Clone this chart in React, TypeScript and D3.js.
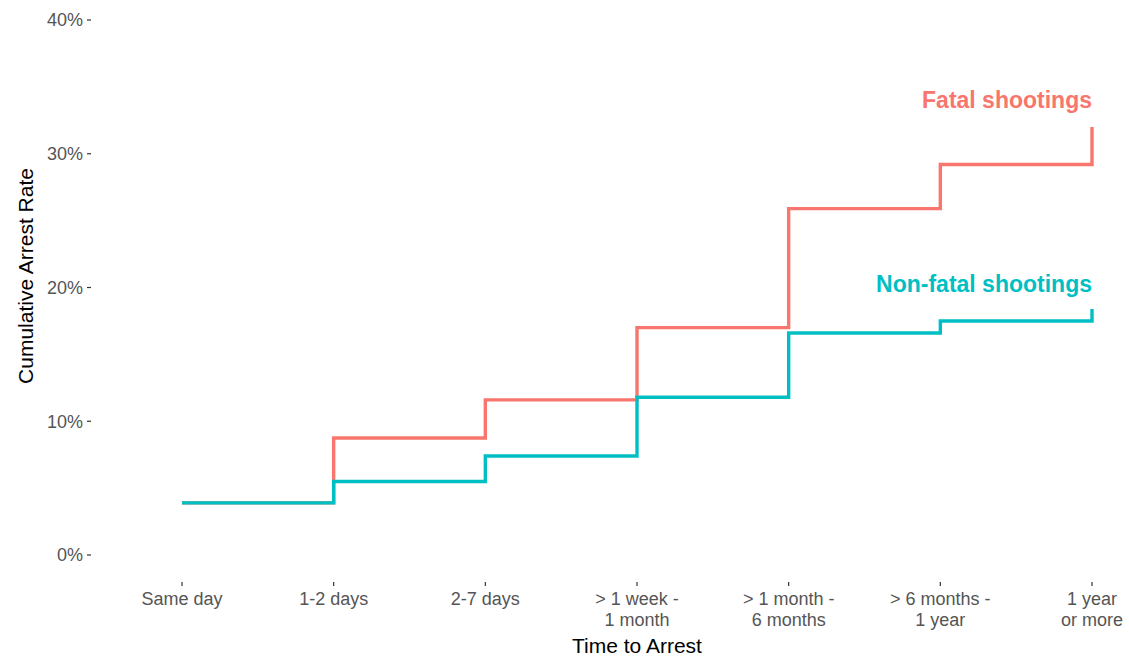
import React from "react";
import * as d3 from "d3";

const categories = [
  "Same day",
  "1-2 days",
  "2-7 days",
  "> 1 week -\n1 month",
  "> 1 month -\n6 months",
  "> 6 months -\n1 year",
  "1 year\nor more",
];
const fatal = [0.039, 0.0875, 0.116, 0.170, 0.259, 0.292, 0.320];
const nonFatal = [0.039, 0.055, 0.074, 0.118, 0.166, 0.175, 0.184];
const yTicks = [0, 0.1, 0.2, 0.3, 0.4];
const seriesLabels = ["Fatal shootings", "Non-fatal shootings"];
const colors = ["#F8766D", "#00BFC4"];

export default function App() {
  const W = 1129, H = 658;
  const x = d3.scalePoint<string>().domain(categories).range([182, 1092]);
  const y = d3.scaleLinear().domain([0, 0.4]).range([555, 20]);
  const panelLeft = 91, panelBottom = 582;
  const line = d3
    .line<number>()
    .x((_, i) => x(categories[i]) as number)
    .y((d) => y(d))
    .curve(d3.curveStepAfter);
  const font = "'Liberation Sans', Arial, Helvetica, sans-serif";
  const fmt = d3.format(".0%");
  return (
    <svg width={W} height={H} style={{ position: "absolute", left: 0, top: 0, background: "#fff" }}>
      <rect width={W} height={H} fill="#fff" />
      {/* y axis */}
      {yTicks.map((t) => (
        <g key={t}>
          <line x1={panelLeft - 4} x2={panelLeft} y1={y(t)} y2={y(t)} stroke="#333" strokeWidth={1.2} />
          <text x={panelLeft - 8} y={y(t)} dy="0.35em" textAnchor="end" fontFamily={font} fontSize={18} fill="#555">
            {fmt(t)}
          </text>
        </g>
      ))}
      {/* x axis */}
      {categories.map((c) => {
        const lines = c.split("\n");
        const cx = x(c) as number;
        return (
          <g key={c}>
            <line x1={cx} x2={cx} y1={panelBottom} y2={panelBottom + 4} stroke="#333" strokeWidth={1.2} />
            {lines.map((l, i) => (
              <text key={i} x={cx} y={605 + i * 21} textAnchor="middle" fontFamily={font} fontSize={18} fill="#555">
                {l}
              </text>
            ))}
          </g>
        );
      })}
      {/* axis titles */}
      <text x={637} y={653} textAnchor="middle" fontFamily={font} fontSize={21} fill="#000">
        Time to Arrest
      </text>
      <text
        transform={`translate(33,276) rotate(-90)`}
        textAnchor="middle"
        fontFamily={font}
        fontSize={21}
        fill="#000"
      >
        Cumulative Arrest Rate
      </text>
      {/* lines */}
      <path d={line(fatal) || ""} fill="none" stroke={colors[0]} strokeWidth={3.4} />
      <path d={line(nonFatal) || ""} fill="none" stroke={colors[1]} strokeWidth={3.4} />
      {/* labels */}
      <text x={1092} y={108} textAnchor="end" fontFamily={font} fontWeight="bold" fontSize={23} fill={colors[0]}>
        {seriesLabels[0]}
      </text>
      <text x={1092} y={292} textAnchor="end" fontFamily={font} fontWeight="bold" fontSize={23} fill={colors[1]}>
        {seriesLabels[1]}
      </text>
    </svg>
  );
}
